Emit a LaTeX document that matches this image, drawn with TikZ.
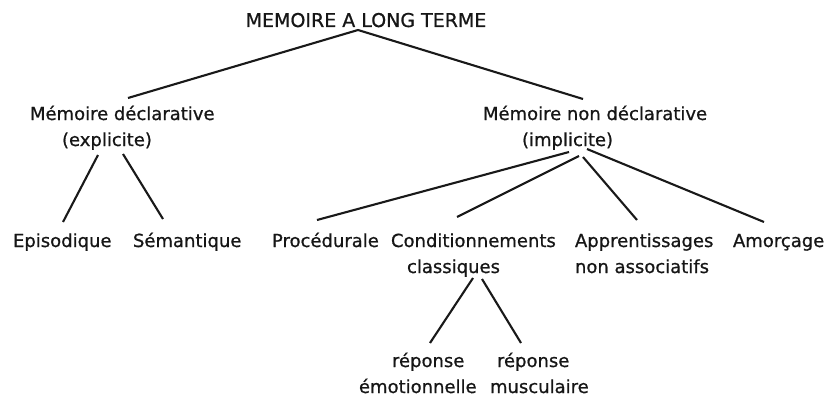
\documentclass[tikz,border=0pt]{standalone}
\usepackage{fontspec}
\setmainfont{DejaVu Sans}[BoldFont={DejaVu Sans},BoldFeatures={FakeBold=0.8}]
\usetikzlibrary{calc}
\definecolor{txt}{RGB}{22,22,22}
\begin{document}
\begin{tikzpicture}[x=1pt,y=-1pt,
  lbl/.style={inner sep=0pt,outer sep=0pt,text=txt,font=\fontsize{18}{26}\selectfont\bfseries},
  link/.style={line width=2.1pt,black!90}]
\useasboundingbox (0,0) rectangle (829,396);
\node[lbl,anchor=base,font=\fontsize{19}{26}\selectfont\bfseries] (root) at (366,27) {MEMOIRE A LONG TERME};
\node[lbl,anchor=base west] (decl) at (30,120) {\vtop{\hbox{Mémoire déclarative}\hbox{\hspace*{32pt}(explicite)}}};
\node[lbl,anchor=base west] (nondecl) at (483,120) {\vtop{\hbox{Mémoire non déclarative}\hbox{\hspace*{39pt}(implicite)}}};
\node[lbl,anchor=base west] (epi) at (13,247) {Episodique};
\node[lbl,anchor=base west] (sem) at (133,247) {Sémantique};
\node[lbl,anchor=base west] (proc) at (272,247) {Procédurale};
\node[lbl,anchor=base west] (cond) at (391,247) {\vtop{\hbox{Conditionnements}\hbox{\hspace*{16pt}classiques}}};
\node[lbl,anchor=base west] (appr) at (575,247) {\vtop{\hbox{Apprentissages}\hbox{non associatifs}}};
\node[lbl,anchor=base west] (amor) at (733,247) {Amorçage};
\node[lbl,anchor=base west] (rep1) at (359,367) {\vtop{\hbox{\hspace*{33pt}réponse}\hbox{émotionnelle}}};
\node[lbl,anchor=base west] (rep2) at (490,367) {\vtop{\hbox{\hspace*{7pt}réponse}\hbox{musculaire}}};
\draw[link] ($(root.base)+(-8,3)$) -- ($(decl.base west)+(98,-22)$);
\draw[link] ($(root.base)+(-8,3)$) -- ($(nondecl.base west)+(100,-21)$);
\draw[link] ($(decl.base west)+(68,35)$) -- ($(epi.base west)+(50,-25)$);
\draw[link] ($(decl.base west)+(93,34)$) -- ($(sem.base west)+(30,-28)$);
\draw[link] ($(nondecl.base west)+(86,32)$) -- ($(proc.base west)+(45,-27)$);
\draw[link] ($(nondecl.base west)+(96,36)$) -- ($(cond.base west)+(66,-30)$);
\draw[link] ($(nondecl.base west)+(100,37)$) -- ($(appr.base west)+(62,-27)$);
\draw[link] ($(nondecl.base west)+(104,29)$) -- ($(amor.base west)+(31,-25)$);
\draw[link] ($(cond.base west)+(82,31)$) -- ($(rep1.base west)+(71,-24)$);
\draw[link] ($(cond.base west)+(91,32)$) -- ($(rep2.base west)+(31,-24)$);
\end{tikzpicture}
\end{document}
